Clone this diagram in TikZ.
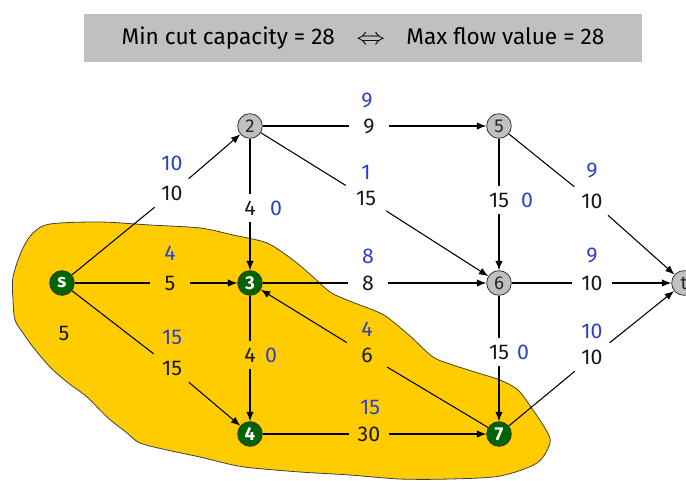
\documentclass[tikz,border=0pt]{standalone}
\usepackage{fontspec}
\setmainfont{Fira Sans}
\usetikzlibrary{arrows.meta}
\definecolor{cutyellow}{RGB}{255,204,0}
\definecolor{nodegreen}{RGB}{0,100,0}
\definecolor{nodegray}{RGB}{192,192,192}
\definecolor{flowblue}{RGB}{45,65,200}
\definecolor{bannergray}{RGB}{192,192,192}

\begin{document}
\begin{tikzpicture}[x=0.75pt,y=-0.75pt,
  vtx/.style={circle, draw=black!80, line width=0.6pt, minimum size=18.5pt, inner sep=0pt,
              font=\fontsize{14}{14}\selectfont},
  srcside/.style={vtx, fill=nodegreen, text=white, font=\fontsize{14}{14}\selectfont\bfseries},
  sinkside/.style={vtx, fill=nodegray, text=black!85},
  caplbl/.style={minimum width=30pt, minimum height=21pt, inner sep=0pt,
              font=\fontsize{16}{16}\selectfont, text=black!90},
  flowlbl/.style={inner sep=0pt, font=\fontsize{16}{16}\selectfont, text=flowblue},
  link/.style={line width=0.8pt, black},
  linkarrow/.style={link, -{Latex[length=7pt,width=5.5pt]}},
  titlebar/.style={fill=bannergray, minimum width=418.5pt, minimum height=36pt,
                 font=\fontsize{17}{17}\selectfont},
]
\useasboundingbox (0,0) rectangle (686,480);

% title bar
\node[titlebar] (title) at (363,38)
  {Min cut capacity = 28\hspace{16pt}\scalebox{1.25}[1]{$\Leftrightarrow$}\hspace{16pt}Max flow value = 28};

% source side of the cut
\draw[fill=cutyellow, draw=black!75, line width=0.6pt]
  plot[smooth cycle, tension=0.5] coordinates {
    (13,277) (13,300) (15,320) (23,333) (33,347) (50,367) (67,382) (87,397)
    (107,417) (127,433) (140,443) (167,450) (200,457) (233,465) (253,468)
    (300,472) (350,475) (400,479) (450,479) (500,476) (537,463) (550,443)
    (546,430) (533,410) (518,390) (500,380) (478,373) (453,365) (433,357)
    (410,336) (387,317) (373,310) (347,300) (330,292) (312,276) (293,260)
    (267,243) (233,235) (200,228) (150,225) (100,222) (50,224) (33,233) (22,250)};

% vertices
\node[srcside]  (s) at (62,283)  {s};
\node[sinkside] (n2) at (250,126) {2};
\node[srcside]  (n3) at (250,283) {3};
\node[srcside]  (n4) at (250,434) {4};
\node[sinkside] (n5) at (499,126) {5};
\node[sinkside] (n6) at (499,283) {6};
\node[srcside]  (n7) at (499,434) {7};
\node[sinkside] (t) at (684,283) {t};

\node[caplbl] (sval) at (64,333) {5};

% s -> 2
\node[caplbl] (c1) at (172,193) {10};
\node[flowlbl] at (172,163) {10};
\draw[link] (s) -- (c1); \draw[linkarrow] (c1) -- (n2);
% s -> 3
\node[caplbl] (c2) at (170,283) {5};
\node[flowlbl] at (170,253) {4};
\draw[link] (s) -- (c2); \draw[linkarrow] (c2) -- (n3);
% s -> 4
\node[caplbl] (c3) at (172,368) {15};
\node[flowlbl] at (172,337) {15};
\draw[link] (s) -- (c3); \draw[linkarrow] (c3) -- (n4);
% 2 -> 5
\node[caplbl] (c4) at (369,126) {9};
\node[flowlbl] at (367,100) {9};
\draw[link] (n2) -- (c4); \draw[linkarrow] (c4) -- (n5);
% 2 -> 3
\node[caplbl] (c5) at (250,208) {4};
\node[flowlbl] at (276,208) {0};
\draw[link] (n2) -- (c5); \draw[linkarrow] (c5) -- (n3);
% 2 -> 6
\node[caplbl] (c6) at (366,198) {15};
\node[flowlbl] at (366,172) {1};
\draw[link] (n2) -- (c6); \draw[linkarrow] (c6) -- (n6);
% 3 -> 6
\node[caplbl] (c7) at (368,283) {8};
\node[flowlbl] at (368,256) {8};
\draw[link] (n3) -- (c7); \draw[linkarrow] (c7) -- (n6);
% 5 -> 6
\node[caplbl] (c8) at (499,200) {15};
\node[flowlbl] at (527,200) {0};
\draw[link] (n5) -- (c8); \draw[linkarrow] (c8) -- (n6);
% 5 -> t
\node[caplbl] (c9) at (592,201) {10};
\node[flowlbl] at (592,170) {9};
\draw[link] (n5) -- (c9); \draw[linkarrow] (c9) -- (t);
% 6 -> t
\node[caplbl] (c10) at (592,283) {10};
\node[flowlbl] at (592,255) {9};
\draw[link] (n6) -- (c10); \draw[linkarrow] (c10) -- (t);
% 3 -> 4
\node[caplbl] (c11) at (250,355) {4};
\node[flowlbl] at (271,355) {0};
\draw[link] (n3) -- (c11); \draw[linkarrow] (c11) -- (n4);
% 7 -> 3
\node[caplbl] (c12) at (367,355) {6};
\node[flowlbl] at (367,329) {4};
\draw[link] (n7) -- (c12); \draw[linkarrow] (c12) -- (n3);
% 4 -> 7
\node[caplbl] (c13) at (369,434) {30};
\node[flowlbl] at (370,407) {15};
\draw[link] (n4) -- (c13); \draw[linkarrow] (c13) -- (n7);
% 6 -> 7
\node[caplbl] (c14) at (499,352) {15};
\node[flowlbl] at (523,352) {0};
\draw[link] (n6) -- (c14); \draw[linkarrow] (c14) -- (n7);
% 7 -> t
\node[caplbl] (c15) at (592,357) {10};
\node[flowlbl] at (592,331) {10};
\draw[link] (n7) -- (c15); \draw[linkarrow] (c15) -- (t);
\end{tikzpicture}
\end{document}
